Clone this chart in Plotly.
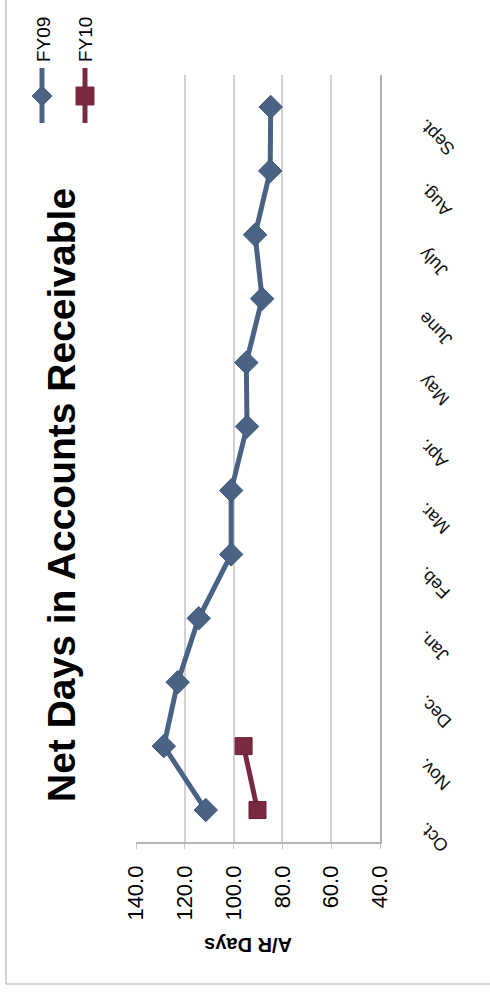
import plotly.graph_objects as go

months = ["Oct.", "Nov.", "Dec.", "Jan.", "Feb.", "Mar.", "Apr.", "May", "June", "July", "Aug.", "Sept."]
fy09 = [111.4, 128.6, 122.9, 114.3, 101.0, 101.0, 94.5, 94.8, 88.3, 91.2, 85.0, 84.8]
fy10_months = ["Oct.", "Nov."]
fy10 = [90.2, 95.9]
value_ticks = [140, 120, 100, 80, 60, 40]

C09 = "#4a6385"
C10 = "#7a2a40"

W, H = 490, 993
L, R, T, B = 136, 110, 75, 151
PW, PH = W - L - R, H - T - B


def px(x):
    return (x - L) / PW


def py(y):
    return (H - B - y) / PH


fig = go.Figure()
fig.add_trace(go.Scatter(x=fy09, y=months, mode="lines+markers", name="FY09",
                         line=dict(color=C09, width=5),
                         marker=dict(symbol="diamond", size=18, color=C09,
                                     line=dict(color="#3d5574", width=1)),
                         showlegend=False))
fig.add_trace(go.Scatter(x=fy10, y=fy10_months, mode="lines+markers", name="FY10",
                         line=dict(color=C10, width=5),
                         marker=dict(symbol="square", size=17, color=C10,
                                     line=dict(color="#6a2034", width=1)),
                         showlegend=False))

fig.update_layout(
    width=W, height=H, autosize=False,
    margin=dict(l=L, r=R, t=T, b=B, pad=0),
    paper_bgcolor="white", plot_bgcolor="white",
    font=dict(family="Liberation Sans, Arial, sans-serif", color="black"),
    xaxis=dict(range=[140, 40], tickvals=value_ticks, tickformat=".1f",
               tickangle=-90, tickfont=dict(size=22),
               showgrid=True, gridcolor="#d2d2d2", gridwidth=1.5, zeroline=False,
               showline=True, linecolor="#b5b5b5", linewidth=1.5,
               ticks="outside", ticklen=5, tickcolor="#c8c8c8",
               ticklabelstandoff=8),
    yaxis=dict(type="category", categoryorder="array", categoryarray=months,
               range=[-0.5, 11.5], showticklabels=False, showgrid=False,
               zeroline=False, side="right", showline=True,
               linecolor="#b0b0b0", linewidth=1.5),
)

ann = []
# month labels
for m in months:
    ann.append(dict(text=m, x=1, xref="paper", y=m, yref="y", xanchor="left",
                    yanchor="top", xshift=32, yshift=-6, textangle=-135,
                    showarrow=False, font=dict(size=18, color="#111")))
# title
ann.append(dict(text="<b>Net Days in Accounts Receivable</b>", x=px(61), y=py(495),
                xref="paper", yref="paper", xanchor="center", yanchor="middle",
                textangle=-90, showarrow=False,
                font=dict(size=39, color="black")))
# axis title
ann.append(dict(text="<b>A/R Days</b>", x=px(248), y=py(945), xref="paper",
                yref="paper", xanchor="center", yanchor="middle", textangle=180,
                showarrow=False, font=dict(size=20, color="black")))
# legend texts
ann.append(dict(text="FY09", x=px(43), y=py(40), xref="paper", yref="paper",
                xanchor="center", yanchor="middle",
                textangle=-90, showarrow=False, font=dict(size=19)))
ann.append(dict(text="FY10", x=px(85), y=py(40), xref="paper", yref="paper",
                xanchor="center", yanchor="middle",
                textangle=-90, showarrow=False, font=dict(size=19)))

shapes = []
# chart border
shapes.append(dict(type="line", xref="paper", yref="paper", x0=px(6), x1=px(6),
                   y0=py(0), y1=py(984), line=dict(color="#c4c4c4", width=1.5)))
shapes.append(dict(type="line", xref="paper", yref="paper", x0=px(6), x1=px(490),
                   y0=py(984), y1=py(984), line=dict(color="#c4c4c4", width=1.5)))
# legend keys
for cx, col in [(42, C09), (85, C10)]:
    shapes.append(dict(type="line", xref="paper", yref="paper", x0=px(cx), x1=px(cx),
                       y0=py(68), y1=py(123), line=dict(color=col, width=5)))
d = 10
shapes.append(dict(type="path", xref="paper", yref="paper",
                   path=f"M {px(42)},{py(96-d)} L {px(42+d)},{py(96)} L {px(42)},{py(96+d)} L {px(42-d)},{py(96)} Z",
                   fillcolor=C09, line=dict(color=C09, width=1)))
s = 9
shapes.append(dict(type="rect", xref="paper", yref="paper",
                   x0=px(85 - s), x1=px(85 + s), y0=py(96 - s), y1=py(96 + s),
                   fillcolor=C10, line=dict(color=C10, width=1)))

fig.update_layout(annotations=ann, shapes=shapes)
fig.write_html("out.html")
